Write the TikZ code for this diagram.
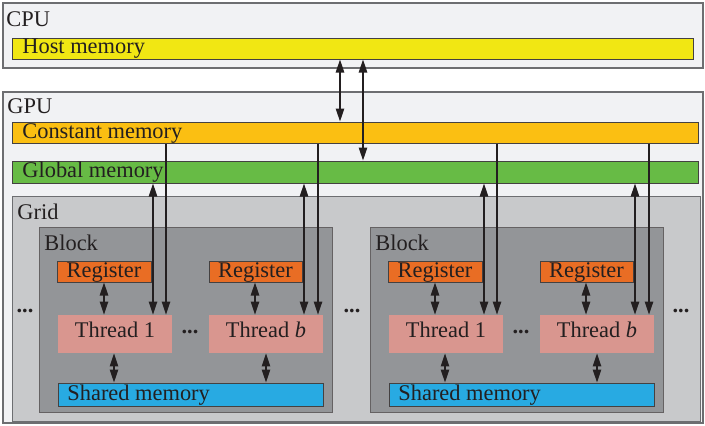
\documentclass[tikz,border=0pt]{standalone}
\usepackage{fontspec}
\setmainfont{Liberation Serif}
\usetikzlibrary{fit,arrows.meta}
\definecolor{txt}{HTML}{231F20}
\definecolor{bgc}{HTML}{F1F2F4}
\definecolor{edge}{HTML}{6D6E71}
\definecolor{hostc}{HTML}{F1E713}
\definecolor{constc}{HTML}{FBBF12}
\definecolor{globc}{HTML}{67BB45}
\definecolor{gridc}{HTML}{C8C9CB}
\definecolor{blockc}{HTML}{939598}
\definecolor{regc}{HTML}{E96D24}
\definecolor{thrc}{HTML}{D9968F}
\definecolor{shc}{HTML}{28AAE2}
\begin{document}
\begin{tikzpicture}[x=0.5pt,y=-0.5pt,
  font=\fontsize{11.2}{13}\selectfont, text=txt,
  outer/.style={draw=edge, fill=bgc, line width=0.6pt, inner sep=0pt},
  bar/.style={draw=txt!85, line width=0.5pt, inner sep=0pt},
  gridbox/.style={draw=edge, fill=gridc, line width=0.5pt, inner sep=0pt},
  blockbox/.style={draw=txt!70, fill=blockc, line width=0.5pt, inner sep=0pt},
  regbox/.style={bar, fill=regc},
  thrbox/.style={fill=thrc, inner sep=0pt},
  shbox/.style={bar, fill=shc},
  lbl/.style={anchor=west, inner sep=0pt},
  dots/.style={inner sep=0pt, font=\fontsize{11.2}{13}\selectfont\bfseries},
  arr/.style={line width=0.65pt, draw=txt, -{Triangle[length=6.5pt,width=4.2pt]}},
  darr/.style={line width=0.65pt, draw=txt, {Triangle[length=6.5pt,width=4.2pt]}-{Triangle[length=6.5pt,width=4.2pt]}}]
\useasboundingbox (0,0) rectangle (705,425);

% CPU
\node[outer, fit={(3,3) (703,68)}] (cpu) {};
\node[lbl] (cpulbl) at (6,19) {CPU};
\node[bar, fill=hostc, fit={(12,38) (693,59)}] (host) {};
\node[lbl] (hostlbl) at (22,49) {Host memory};

% GPU
\node[outer, fit={(3,92) (703,423)}] (gpu) {};
\node[lbl] (gpulbl) at (7,106) {GPU};
\node[bar, fill=constc, fit={(12,122) (698,143)}] (const) {};
\node[lbl] (constlbl) at (22,133) {Constant memory};
\node[bar, fill=globc, fit={(12,161) (698,183)}] (glob) {};
\node[lbl] (globlbl) at (22,172.5) {Global memory};

% Grid
\node[gridbox, fit={(12,196) (700,421)}] (grid) {};
\node[lbl] (gridlbl) at (17,212) {Grid};
\node[dots] (gd1) at (25,311) {...};
\node[dots] (gd2) at (352,311) {...};
\node[dots] (gd3) at (681,311) {...};

\foreach \i/\dx in {1/0, 2/331} {
  \begin{scope}[shift={(\dx,0)}]
    \node[blockbox, fit={(39,227) (332,412)}] (blk\i) {};
    \node[lbl] (blklbl\i) at (44,243) {Block};
    \node[regbox, fit={(57,261) (151,282)}] (rega\i) {};
    \node (regatxt\i) at ([yshift=-0.3pt]rega\i.center) {Register};
    \node[regbox, fit={(209,261) (302,282)}] (regb\i) {};
    \node (regbtxt\i) at ([yshift=-0.3pt]regb\i.center) {Register};
    \node[thrbox, fit={(58,315) (172,353)}] (thra\i) {};
    \node (thratxt\i) at ([yshift=2pt]thra\i.center) {Thread 1};
    \node[thrbox, fit={(209,315) (323,353)}] (thrb\i) {};
    \node (thrbtxt\i) at ([yshift=2pt]thrb\i.center) {Thread \textit{b}};
    \node[dots] (td\i) at (190,332) {...};
    \node[shbox, fit={(58,383) (323,406)}] (sh\i) {};
    \node[lbl] (shlbl\i) at (67,395) {Shared memory};
    \coordinate (rxa\i) at (104,0);
    \coordinate (rxb\i) at (255,0);
    \coordinate (sxa\i) at (114,0);
    \coordinate (sxb\i) at (266,0);
    \coordinate (gxa\i) at (153,0);
    \coordinate (gxb\i) at (304,0);
    \coordinate (cxa\i) at (166,0);
    \coordinate (cxb\i) at (318,0);
  \end{scope}
  \draw[darr] (rega\i.south -| rxa\i) -- (thra\i.north -| rxa\i);
  \draw[darr] (regb\i.south -| rxb\i) -- (thrb\i.north -| rxb\i);
  \draw[darr] (thra\i.south -| sxa\i) -- (sh\i.north -| sxa\i);
  \draw[darr] (thrb\i.south -| sxb\i) -- (sh\i.north -| sxb\i);
  \draw[darr] (glob.south -| gxa\i) -- (thra\i.north -| gxa\i);
  \draw[darr] (glob.south -| gxb\i) -- (thrb\i.north -| gxb\i);
  \draw[arr] (const.south -| cxa\i) -- (thra\i.north -| cxa\i);
  \draw[arr] (const.south -| cxb\i) -- (thrb\i.north -| cxb\i);
}

% host links
\coordinate (hx1) at (340,0);
\coordinate (hx2) at (363,0);
\draw[darr] (host.south -| hx1) -- (const.north -| hx1);
\draw[darr] (host.south -| hx2) -- (glob.north -| hx2);
\end{tikzpicture}
\end{document}
